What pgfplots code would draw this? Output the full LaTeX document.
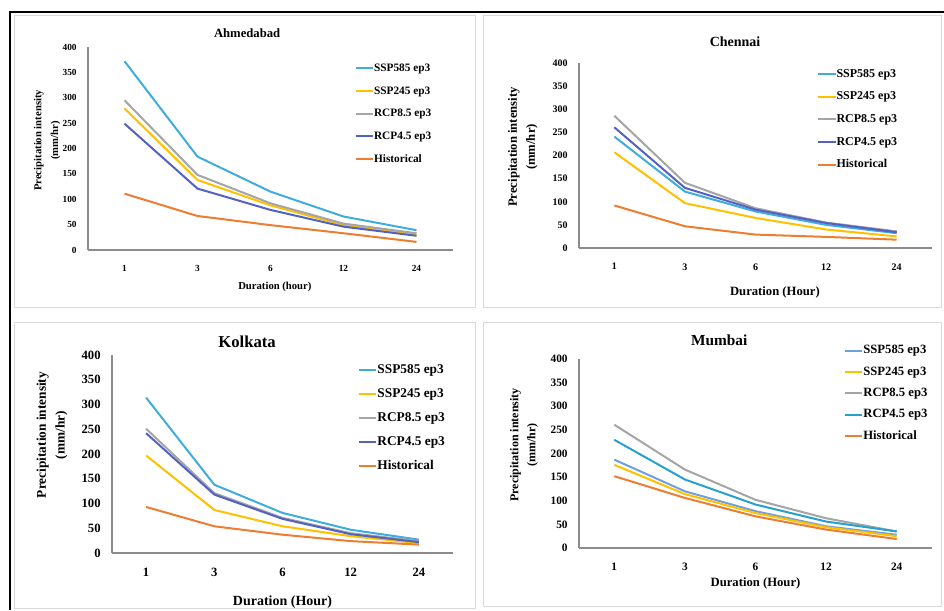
\documentclass[border=0pt]{standalone}
\usepackage{fontspec}
\setmainfont{Liberation Serif}
\usepackage{pgfplots}
\pgfplotsset{compat=1.18}

\definecolor{cSSPa}{RGB}{64,172,222}
\definecolor{cSSPb}{RGB}{255,192,0}
\definecolor{cRCPa}{RGB}{165,165,165}
\definecolor{cRCPb}{RGB}{82,98,196}
\definecolor{cHist}{RGB}{237,125,49}
\definecolor{axisgray}{RGB}{140,140,140}
\definecolor{framegray}{RGB}{217,217,217}

\newcommand{\fs}[1]{\fontsize{#1}{1.2\dimexpr#1pt\relax}\selectfont\bfseries}

\pgfplotsset{
  panel/.style={
    scale only axis,
    axis x line=bottom, axis y line=left,
    axis line style={-, draw=axisgray, line width=0.8pt},
    xmin=-0.5, xmax=4.5, ymin=0, ymax=400,
    xtick={0,...,4}, xticklabels={1,3,6,12,24},
    ytick={0,50,...,400},
    major tick length=0pt,
    /pgf/number format/assume math mode=true,
    every axis plot/.append style={line width=1.5pt, mark=none},
    legend image code/.code={\draw[##1, line width=1.5pt] (0pt,0pt) -- (13pt,0pt);},
    legend cell align=left,
    legend style={draw=none, fill=none, inner sep=0pt, anchor=north west,
      nodes={inner sep=0pt, text height=0.7em, text depth=0.2em}},
    title style={anchor=center, yshift=-6pt},
    xlabel style={anchor=center},
    ylabel style={anchor=center, align=center},
  },
}

\begin{document}
\begin{tikzpicture}
\useasboundingbox (0pt,0pt) rectangle (708pt,-457.5pt);
% panel frames
\draw[framegray, line width=0.6pt] (10.5pt,-11.25pt) rectangle (356.25pt,-230.25pt);
\draw[framegray, line width=0.6pt] (362.25pt,-11.25pt) rectangle (705.75pt,-230.25pt);
\draw[framegray, line width=0.6pt] (10.5pt,-241.5pt) rectangle (356.25pt,-456pt);
\draw[framegray, line width=0.6pt] (362.25pt,-241.5pt) rectangle (705.75pt,-454.5pt);
% outer frame
\draw[black, line width=1.5pt] (7.5pt,-457.5pt) -- (7.5pt,-9pt) -- (708pt,-9pt);

% Ahmedabad
\begin{axis}[panel, at={(66pt,-187.5pt)}, anchor=south west,
  width=273.75pt, height=152.25pt,
  ticklabel style={font=\fs{7}},
  xticklabel style={yshift=-8pt}, yticklabel style={xshift=-5pt},
  title={Ahmedabad}, title style={at={(0.436,1.069)}, font=\fs{9.5}},
  xlabel={Duration (hour)}, xlabel style={at={(0.512,-0.182)}, font=\fs{8}},
  ylabel={Precipitation intensity\\(mm/hr)},
  ylabel style={at={(-0.112,0.54)}, font=\fontsize{8}{12.5}\selectfont\bfseries},
  legend style={at={(0.73,0.926)}, font=\fs{8.5}, row sep=8pt},
]
\addplot[cSSPa] coordinates {(0,372) (1,184) (2,115) (3,66) (4,39)};
\addplot[cSSPb] coordinates {(0,279) (1,138) (2,88) (3,49) (4,30)};
\addplot[cRCPa] coordinates {(0,295) (1,148) (2,92) (3,52) (4,33)};
\addplot[cRCPb] coordinates {(0,249) (1,121) (2,79) (3,46) (4,28)};
\addplot[cHist] coordinates {(0,111) (1,67) (2,49) (3,33) (4,16)};
\legend{SSP585 ep3, SSP245 ep3, RCP8.5 ep3, RCP4.5 ep3, Historical}
\end{axis}

% Chennai
\begin{axis}[panel, at={(434.25pt,-186pt)}, anchor=south west,
  width=264.75pt, height=138.75pt,
  ticklabel style={font=\fs{7.5}},
  xticklabel style={yshift=-8pt}, yticklabel style={xshift=-5pt},
  title={Chennai}, title style={at={(0.442,1.114)}, font=\fs{10.5}},
  xlabel={Duration (Hour)}, xlabel style={at={(0.555,-0.238)}, font=\fs{9.5}},
  ylabel={Precipitation intensity\\(mm/hr)},
  ylabel style={at={(-0.159,0.546)}, font=\fontsize{9.5}{13.5}\selectfont\bfseries},
  legend style={at={(0.674,0.975)}, font=\fs{9}, row sep=8pt},
]
\addplot[cSSPa] coordinates {(0,241) (1,122) (2,79) (3,50) (4,32)};
\addplot[cSSPb] coordinates {(0,207) (1,97) (2,65) (3,40) (4,25)};
\addplot[cRCPa] coordinates {(0,286) (1,141) (2,86) (3,55) (4,36)};
\addplot[cRCPb] coordinates {(0,261) (1,130) (2,83) (3,54) (4,34)};
\addplot[cHist] coordinates {(0,92) (1,47) (2,29) (3,24) (4,18)};
\legend{SSP585 ep3, SSP245 ep3, RCP8.5 ep3, RCP4.5 ep3, Historical}
\end{axis}

% Kolkata
\begin{axis}[panel, at={(84pt,-414.75pt)}, anchor=south west,
  width=255.75pt, height=148.5pt,
  ticklabel style={font=\fs{9.5}},
  xticklabel style={yshift=-8pt}, yticklabel style={xshift=-5pt},
  title={Kolkata}, title style={at={(0.396,1.066)}, font=\fs{12.5}},
  xlabel={Duration (Hour)}, xlabel style={at={(0.5,-0.247)}, font=\fs{10.5}},
  ylabel={Precipitation intensity\\(mm/hr)},
  ylabel style={at={(-0.176,0.596)}, font=\fontsize{10}{14}\selectfont\bfseries},
  legend style={at={(0.721,0.955)}, font=\fs{10}, row sep=9pt},
]
\addplot[cSSPa] coordinates {(0,314) (1,138) (2,81) (3,47) (4,27)};
\addplot[cSSPb] coordinates {(0,197) (1,87) (2,54) (3,34) (4,20)};
\addplot[cRCPa] coordinates {(0,251) (1,121) (2,71) (3,40) (4,24)};
\addplot[cRCPb] coordinates {(0,242) (1,118) (2,69) (3,38) (4,22)};
\addplot[cHist] coordinates {(0,93) (1,54) (2,37) (3,24) (4,17)};
\legend{SSP585 ep3, SSP245 ep3, RCP8.5 ep3, RCP4.5 ep3, Historical}
\end{axis}

% Mumbai
\begin{axis}[panel, at={(434.25pt,-411pt)}, anchor=south west,
  width=264.75pt, height=141.75pt,
  ticklabel style={font=\fs{8.5}},
  xticklabel style={yshift=-8pt}, yticklabel style={xshift=-5pt},
  title={Mumbai}, title style={at={(0.397,1.10)}, font=\fs{11.5}},
  xlabel={Duration (Hour)}, xlabel style={at={(0.5,-0.185)}, font=\fs{9.5}},
  ylabel={Precipitation intensity\\(mm/hr)},
  ylabel style={at={(-0.156,0.545)}, font=\fontsize{9}{12.75}\selectfont\bfseries},
  legend style={at={(0.75,1.078)}, font=\fs{9.5}, row sep=7pt},
]
\addplot[color={rgb,255:red,110;green,160;blue,222}] coordinates {(0,187) (1,120) (2,78) (3,46) (4,28)};
\addplot[cSSPb] coordinates {(0,176) (1,114) (2,74) (3,44) (4,25)};
\addplot[cRCPa] coordinates {(0,261) (1,166) (2,102) (3,63) (4,35)};
\addplot[color={rgb,255:red,40;green,160;blue,205}] coordinates {(0,229) (1,145) (2,92) (3,56) (4,35)};
\addplot[cHist] coordinates {(0,152) (1,106) (2,67) (3,39) (4,19)};
\legend{SSP585 ep3, SSP245 ep3, RCP8.5 ep3, RCP4.5 ep3, Historical}
\end{axis}
\end{tikzpicture}
\end{document}
